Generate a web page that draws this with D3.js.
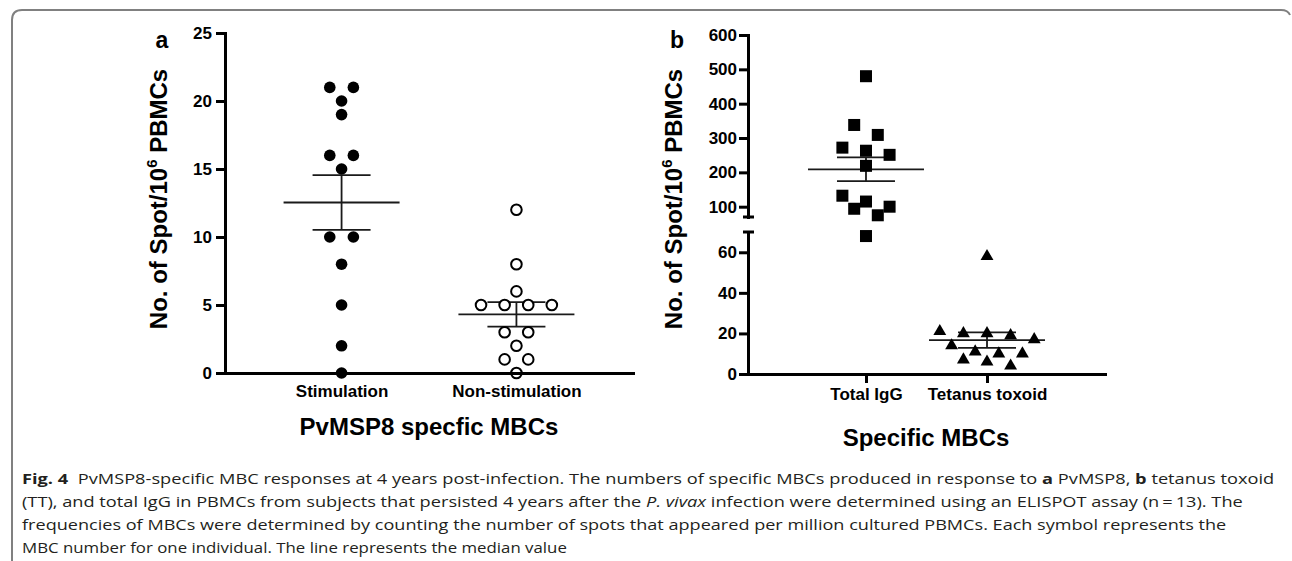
<!DOCTYPE html>
<html>
<head>
<meta charset="utf-8">
<script src="https://cdn.jsdelivr.net/npm/d3@7"></script>
<style>
  body { margin: 0; background: #fff; }
  svg { display: block; }
</style>
</head>
<body>
<svg id="fig" width="1292" height="561"></svg>
<script>
'use strict';

// ---- data ----
const groupsA = ['Stimulation', 'Non-stimulation'];
const stimulation = [21, 21, 20, 19, 16, 16, 15, 10, 10, 8, 5, 2, 0];
const nonStimulation = [12, 8, 6, 5, 5, 5, 5, 3, 3, 2, 1, 1, 0];
const ticksA = [0, 5, 10, 15, 20, 25];

const groupsB = ['Total IgG', 'Tetanus toxoid'];
const totalIgG = [480, 338, 309, 272, 263, 251, 219, 132, 115, 100, 94, 75, 68];
const tetanusToxoid = [58, 21, 20, 20, 19, 17, 14, 11, 10, 10, 7, 6, 4];
const ticksBLow = [0, 20, 40, 60];
const ticksBHigh = [100, 200, 300, 400, 500, 600];
const breakValue = 70;

const titleA = 'PvMSP8 specfic MBCs';
const titleB = 'Specific MBCs';

// caption: each line is a list of [text, style] pieces
const captionLines = [
  [['Fig. 4', 'b'], ['  PvMSP8-specific MBC responses at 4 years post-infection. The numbers of specific MBCs produced in response to ', ''], ['a', 'b'], [' PvMSP8, ', ''], ['b', 'b'], [' tetanus toxoid', '']],
  [['(TT), and total IgG in PBMCs from subjects that persisted 4 years after the ', ''], ['P. vivax', 'i'], [' infection were determined using an ELISPOT assay (n\u2009=\u200913). The', '']],
  [['frequencies of MBCs were determined by counting the number of spots that appeared per million cultured PBMCs. Each symbol represents the', '']],
  [['MBC number for one individual. The line represents the median value', '']]
];

// ---- layout ----
const font = '"Liberation Sans", Arial, Helvetica, sans-serif';
const spacing = 23.6;   // horizontal distance between symbols in one row
const rowGap = 12;      // symbols closer than this (px) share a row

const svg = d3.select('#fig');

// rounded frame (top + left only)
svg.append('path')
  .attr('d', 'M12,561 V20 Q12,10 22,10 H1281 Q1288,10 1290,15')
  .attr('fill', 'none')
  .attr('stroke', '#808080')
  .attr('stroke-width', 2);

/**
 * Prism-like column scatter: points whose pixel heights are close are put
 * in one row and spread symmetrically around the column centre.
 */
function swarm(values, yOf, cx) {
  const pts = values.map(function (v) { return { v: v, y: yOf(v) }; })
    .sort(function (a, b) { return a.y - b.y; });
  const rows = [];
  pts.forEach(function (p) {
    const row = rows[rows.length - 1];
    if (row && p.y - row[0].y < rowGap) row.push(p); else rows.push([p]);
  });
  rows.forEach(function (row) {
    row.forEach(function (p, i) { p.x = cx + (i - (row.length - 1) / 2) * spacing; });
  });
  return pts;
}

function drawPoints(g, pts, shape) {
  const sel = g.append('g').selectAll(null).data(pts);
  if (shape === 'dot') {
    sel.join('circle').attr('cx', d => d.x).attr('cy', d => d.y).attr('r', 5.8).attr('fill', '#000');
  } else if (shape === 'ring') {
    sel.join('circle').attr('cx', d => d.x).attr('cy', d => d.y).attr('r', 5.3)
      .attr('fill', '#fff').attr('stroke', '#000').attr('stroke-width', 2);
  } else if (shape === 'square') {
    sel.join('rect').attr('x', d => d.x - 6).attr('y', d => d.y - 6)
      .attr('width', 12).attr('height', 12).attr('fill', '#000');
  } else {
    sel.join('path').attr('d', d3.symbol(d3.symbolTriangle, 72))
      .attr('transform', d => 'translate(' + d.x + ',' + d.y + ')').attr('fill', '#000');
  }
}

// mean line with SEM whiskers
function drawMean(g, values, yOf, cx) {
  const m = d3.mean(values);
  const se = d3.deviation(values) / Math.sqrt(values.length);
  const lg = g.append('g').attr('stroke', '#1a1a1a').attr('stroke-width', 1.8);
  lg.append('line').attr('x1', cx - 58).attr('x2', cx + 58).attr('y1', yOf(m)).attr('y2', yOf(m));
  [m + se, m - se].forEach(function (v) {
    lg.append('line').attr('x1', cx - 29).attr('x2', cx + 29).attr('y1', yOf(v)).attr('y2', yOf(v));
  });
  lg.append('line').attr('x1', cx).attr('x2', cx).attr('y1', yOf(m + se)).attr('y2', yOf(m - se));
}

function styleAxis(ax) {
  ax.attr('font-family', null).attr('font-size', null);
  ax.select('.domain').attr('stroke-width', 3).attr('stroke-linecap', 'square');
  ax.selectAll('.tick line').attr('stroke-width', 3);
  ax.selectAll('text').attr('font-family', font).attr('font-weight', 'bold')
    .attr('font-size', 17).attr('fill', '#000');
}

function boldText(g, x, y, txt, size) {
  return g.append('text').attr('x', x).attr('y', y).attr('text-anchor', 'middle')
    .attr('font-family', font).attr('font-weight', 'bold').attr('font-size', size)
    .attr('fill', '#000').text(txt);
}

function yLabel(g, x, y) {
  const t = g.append('text').attr('transform', 'translate(' + x + ',' + y + ') rotate(-90)')
    .attr('text-anchor', 'middle').attr('font-family', font).attr('font-weight', 'bold')
    .attr('font-size', 24).attr('fill', '#000');
  t.append('tspan').text('No. of Spot/10');
  t.append('tspan').attr('font-size', 15).attr('dy', -10).text('6');
  t.append('tspan').attr('dy', 10).text(' PBMCs');
}

// ---- panel a ----
const gA = svg.append('g');
const xA = d3.scalePoint().domain(groupsA).range([225, 633]).padding(2 / 3);
const yA = d3.scaleLinear().domain([0, 25]).range([373, 33]);

drawMean(gA, stimulation, yA, xA(groupsA[0]));
drawMean(gA, nonStimulation, yA, xA(groupsA[1]));
drawPoints(gA, swarm(stimulation, yA, xA(groupsA[0])), 'dot');
drawPoints(gA, swarm(nonStimulation, yA, xA(groupsA[1])), 'ring');

styleAxis(gA.append('g').attr('transform', 'translate(225,0)')
  .call(d3.axisLeft(yA).tickValues(ticksA).tickSize(9).tickSizeOuter(0).tickPadding(4)));
styleAxis(gA.append('g').attr('transform', 'translate(0,373)')
  .call(d3.axisBottom(xA).tickSize(0).tickSizeOuter(0).tickPadding(12)));

boldText(gA, 429, 435, titleA, 24);
boldText(gA, 162, 48, 'a', 23);
yLabel(gA, 167, 199);

// ---- panel b (broken y axis) ----
const gB = svg.append('g');
const xB = d3.scalePoint().domain(groupsB).range([748, 1105]).padding(0.975);
const yBLow = d3.scaleLinear().domain([0, breakValue]).range([374, 232]);
const yBHigh = d3.scaleLinear().domain([breakValue, 600]).range([217, 35]);
const yB = function (v) { return v >= breakValue ? yBHigh(v) : yBLow(v); };

drawMean(gB, totalIgG, yB, xB(groupsB[0]));
drawMean(gB, tetanusToxoid, yB, xB(groupsB[1]));
drawPoints(gB, swarm(totalIgG, yB, xB(groupsB[0])), 'square');
drawPoints(gB, swarm(tetanusToxoid, yB, xB(groupsB[1])), 'triangle');

styleAxis(gB.append('g').attr('transform', 'translate(748,0)')
  .call(d3.axisLeft(yBLow).tickValues(ticksBLow).tickSize(9).tickSizeOuter(0).tickPadding(2)));
styleAxis(gB.append('g').attr('transform', 'translate(748,0)')
  .call(d3.axisLeft(yBHigh).tickValues(ticksBHigh).tickSize(9).tickSizeOuter(0).tickPadding(2)));
// little caps at the axis break
[yBHigh(breakValue), yBLow(breakValue)].forEach(function (y) {
  gB.append('line').attr('x1', 743).attr('x2', 754).attr('y1', y).attr('y2', y)
    .attr('stroke', '#000').attr('stroke-width', 3);
});
styleAxis(gB.append('g').attr('transform', 'translate(0,374)')
  .call(d3.axisBottom(xB).tickSize(9).tickSizeOuter(0).tickPadding(5)));

boldText(gB, 926, 446, titleB, 24);
boldText(gB, 677, 48, 'b', 23);
yLabel(gB, 682, 199);

// ---- caption ----
const capEnds = [1275, 1244, 1227, 567];
const capG = svg.append('g');
captionLines.forEach(function (line, i) {
  const t = capG.append('text')
    .attr('font-family', '"Open Sans", sans-serif').attr('font-size', 15)
    .attr('fill', '#231f20').style('white-space', 'pre');
  line.forEach(function (piece) {
    const s = t.append('tspan').text(piece[0]);
    if (piece[1] === 'b') s.attr('font-weight', 'bold');
    if (piece[1] === 'i') s.attr('font-style', 'italic');
  });
  const k = (capEnds[i] - 22) / t.node().getComputedTextLength();
  t.attr('transform', 'translate(22,' + (484 + i * 23) + ') scale(' + k + ',1)');
});
</script>
</body>
</html>
